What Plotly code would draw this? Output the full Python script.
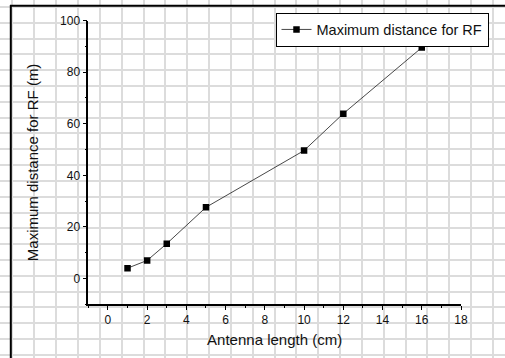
import plotly.graph_objects as go

# Data
antenna_length_cm = [1, 2, 3, 5, 10, 12, 16]
max_distance_rf_m = [4.0, 7.0, 13.5, 27.6, 49.6, 63.9, 89.5]
series_name = "Maximum distance for RF"
x_title = "Antenna length (cm)"
y_title = "Maximum distance for RF (m)"

W, H = 505, 358
FONT = "Arial, 'Liberation Sans', sans-serif"

fig = go.Figure()

# invisible trace for the background "graph paper" subplot
fig.add_trace(go.Scatter(x=[], y=[], xaxis="x", yaxis="y", showlegend=False, hoverinfo="skip"))

# data trace
fig.add_trace(go.Scatter(
    x=antenna_length_cm, y=max_distance_rf_m, name=series_name,
    xaxis="x2", yaxis="y2", mode="lines+markers",
    line=dict(color="#333333", width=0.9),
    marker=dict(symbol="square", size=6.5, color="black"),
    showlegend=True,
))

grid_col = "#dcdcdc"
fig.update_layout(
    width=W, height=H,
    margin=dict(l=0, r=0, t=0, b=0, pad=0, autoexpand=False),
    paper_bgcolor="white", plot_bgcolor="rgba(0,0,0,0)",
    font=dict(family=FONT, color="#111111"),
    showlegend=True,
    # background graph paper
    xaxis=dict(domain=[0, 1], range=[0, W], anchor="y", showgrid=True, gridcolor=grid_col,
               gridwidth=1.5, tick0=34.3, dtick=21.84, showticklabels=False, ticks="",
               zeroline=False, showline=False, fixedrange=True, automargin=False),
    yaxis=dict(domain=[0, 1], range=[H, 0], anchor="x", showgrid=True, gridcolor=grid_col,
               gridwidth=1.5, tick0=22.7, dtick=15.82, showticklabels=False, ticks="",
               zeroline=False, showline=False, fixedrange=True, automargin=False),
    # data axes
    xaxis2=dict(domain=[88.3 / W, 461 / W], range=[-1, 18], anchor="y2", automargin=False,
                showgrid=False, zeroline=False, showline=True, linecolor="black", linewidth=1.5,
                ticks="outside", ticklen=4, tickwidth=1.3, tickcolor="black",
                tick0=0, dtick=2, tickfont=dict(size=12, color="#111"),
                minor=dict(ticks="outside", dtick=1, ticklen=2, tickwidth=1.2, tickcolor="black", showgrid=False),
                title=dict(text=x_title, font=dict(size=15, color="#111"), standoff=8)),
    yaxis2=dict(domain=[(H - 304.3) / H, (H - 20.5) / H], range=[-10, 100], anchor="x2", automargin=False,
                showgrid=False, zeroline=False, showline=True, linecolor="black", linewidth=1.5,
                ticks="outside", ticklen=4, tickwidth=1.3, tickcolor="black",
                tick0=0, dtick=20, tickfont=dict(size=12, color="#111"),
                minor=dict(ticks="outside", dtick=10, ticklen=2, tickwidth=1.2, tickcolor="black", showgrid=False),
                title=dict(text=y_title, font=dict(size=15, color="#111"), standoff=18)),
    legend=dict(x=275.5 / W, y=(H - 12.5) / H, xanchor="left", yanchor="top",
                bgcolor="white", bordercolor="black", borderwidth=1,
                font=dict(size=14.5, color="#111")),
    shapes=[
        dict(type="line", xref="paper", yref="paper", x0=10.8 / W, x1=10.8 / W, y0=0, y1=(H - 5) / H,
             line=dict(color="black", width=2)),
        dict(type="line", xref="paper", yref="paper", x0=10 / W, x1=1, y0=(H - 5.8) / H, y1=(H - 5.8) / H,
             line=dict(color="black", width=2)),
    ],
)

fig.write_html("out.html", config={"displayModeBar": False},
               post_script="document.body.style.margin='0';document.body.style.overflow='hidden';")
